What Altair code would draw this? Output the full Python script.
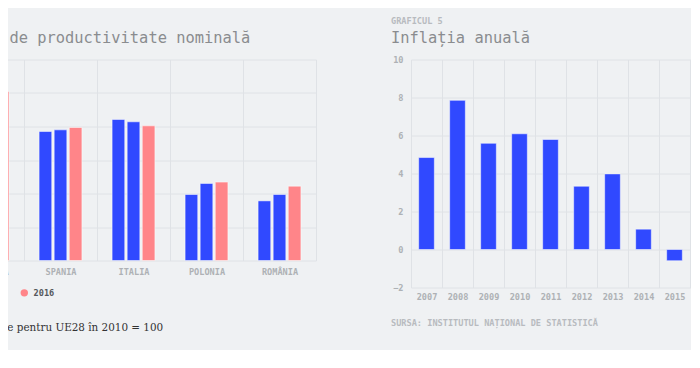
import altair as alt
import pandas as pd

# ---------------- data ----------------
countries = ["GERMANIA", "SPANIA", "ITALIA", "POLONIA", "ROMÂNIA"]
series_years = ["2008", "2012", "2016"]
prod_2008 = [97.0, 77.0, 84.2, 39.4, 35.6]
prod_2012 = [99.0, 78.0, 82.8, 46.0, 39.4]
prod_2016 = [100.9, 79.4, 80.4, 46.8, 44.4]

infl_years = ["2007", "2008", "2009", "2010", "2011", "2012", "2013", "2014", "2015", "2016"]
infl_values = [4.84, 7.85, 5.59, 6.09, 5.79, 3.33, 3.98, 1.07, -0.59, -1.55]

left_kicker = "GRAFICUL 4"
left_title = "Indicele de productivitate nominală"
left_note = "*Valoarea medie pentru UE28 în 2010 = 100"
left_source = "SURSA: EUROSTAT"
right_kicker = "GRAFICUL 5"
right_title = "Inflația anuală"
right_source = "SURSA: INSTITUTUL NAȚIONAL DE STATISTICĂ"

# ---------------- styling ----------------
MONO = "DejaVu Sans Mono"
SERIF = "DejaVu Serif"
BG = "#eff1f3"
GRID = "#dfe2e6"
BLUE = "#3049ff"
PINK = "#ff8589"
LABEL = "#aeb1b5"

rows = []
for i, c in enumerate(countries):
    for y, vals in zip(series_years, [prod_2008, prod_2012, prod_2016]):
        rows.append({"tara": c, "an": y, "valoare": vals[i]})
prod_df = pd.DataFrame(rows)
infl_df = pd.DataFrame({"an": infl_years, "inflatie": infl_values})


def title_params(kicker, title):
    return alt.TitleParams(
        text=kicker, subtitle=title, anchor="start", frame="bounds",
        font=MONO, fontSize=8.6, fontWeight="bold", color="#b8bbbf",
        subtitleFont=MONO, subtitleFontSize=15.4, subtitleColor="#8a8c8f",
        subtitleFontWeight="normal", subtitlePadding=5.5, offset=9,
    )


axis_common = dict(
    title=None, ticks=False, domain=False, gridColor=GRID, gridWidth=1,
    labelFont=MONO, labelFontSize=8.6, labelFontWeight="bold", labelColor=LABEL,
)

# ---------------- left chart ----------------
LW, LH = 365, 201
left_bars = alt.Chart(prod_df).mark_bar(
    stroke="#ffffff", strokeWidth=1, strokeOpacity=0.5
).encode(
    x=alt.X("tara:N", sort=countries,
            scale=alt.Scale(paddingInner=0, paddingOuter=0),
            axis=alt.Axis(grid=True, tickBand="extent", labelPadding=6.5, labelAngle=0, **axis_common)),
    xOffset=alt.XOffset("an:N", sort=series_years,
                        scale=alt.Scale(paddingInner=0.16, paddingOuter=1)),
    y=alt.Y("valoare:Q", scale=alt.Scale(domain=[0, 120], nice=False),
            axis=alt.Axis(grid=True, values=[0, 20, 40, 60, 80, 100, 120], labelPadding=8, **axis_common)),
    color=alt.Color("an:N", sort=series_years,
                    scale=alt.Scale(domain=series_years, range=[BLUE, BLUE, PINK]),
                    legend=alt.Legend(orient="none", legendX=-27, legendY=229, direction="horizontal",
                                      title=None, symbolType="circle", symbolSize=55, symbolStrokeWidth=0,
                                      labelFont=MONO, labelFontSize=8.6, labelFontWeight="bold",
                                      labelColor="#55585c", labelOffset=5, columnPadding=13)),
)
left_note_mark = alt.Chart(pd.DataFrame({"t": [left_note]})).mark_text(
    align="left", baseline="middle", font=SERIF, fontSize=10.4, color="#333333"
).encode(x=alt.value(-24), y=alt.value(268), text="t:N")
left_src_mark = alt.Chart(pd.DataFrame({"t": [left_source]})).mark_text(
    align="left", baseline="middle", font=MONO, fontSize=8.6, fontWeight="bold", color="#b8bbbf"
).encode(x=alt.value(-25), y=alt.value(285), text="t:N")

left = alt.layer(left_bars, left_note_mark, left_src_mark).properties(
    width=LW, height=LH, title=title_params(left_kicker, left_title)
)

# ---------------- right chart ----------------
RW, RH = 310, 228
right_bars = alt.Chart(infl_df).mark_bar(
    color=BLUE, stroke="#ffffff", strokeWidth=1, strokeOpacity=0.5, width=alt.RelativeBandSize(0.506)
).encode(
    x=alt.X("an:N", sort=infl_years, scale=alt.Scale(paddingInner=0, paddingOuter=0),
            axis=alt.Axis(grid=True, tickBand="extent", labelPadding=5, labelAngle=0, **axis_common)),
    y=alt.Y("inflatie:Q", scale=alt.Scale(domain=[-2, 10], nice=False),
            axis=alt.Axis(grid=True, values=[-2, 0, 2, 4, 6, 8, 10], labelPadding=8, **axis_common)),
)
right_src_mark = alt.Chart(pd.DataFrame({"t": [right_source]})).mark_text(
    align="left", baseline="middle", font=MONO, fontSize=8.6, fontWeight="bold", color="#b8bbbf"
).encode(x=alt.value(-20), y=alt.value(263), text="t:N")

right = alt.layer(right_bars, right_src_mark).properties(
    width=RW, height=RH, title=title_params(right_kicker, right_title)
)

chart = alt.hconcat(left, right, spacing=75).properties(
    padding={"left": -84, "top": 8.5, "right": -30, "bottom": 0},
    background=BG,
).configure_view(stroke=None)

chart.save("out.html", embed_options={"renderer": "svg", "actions": False})
